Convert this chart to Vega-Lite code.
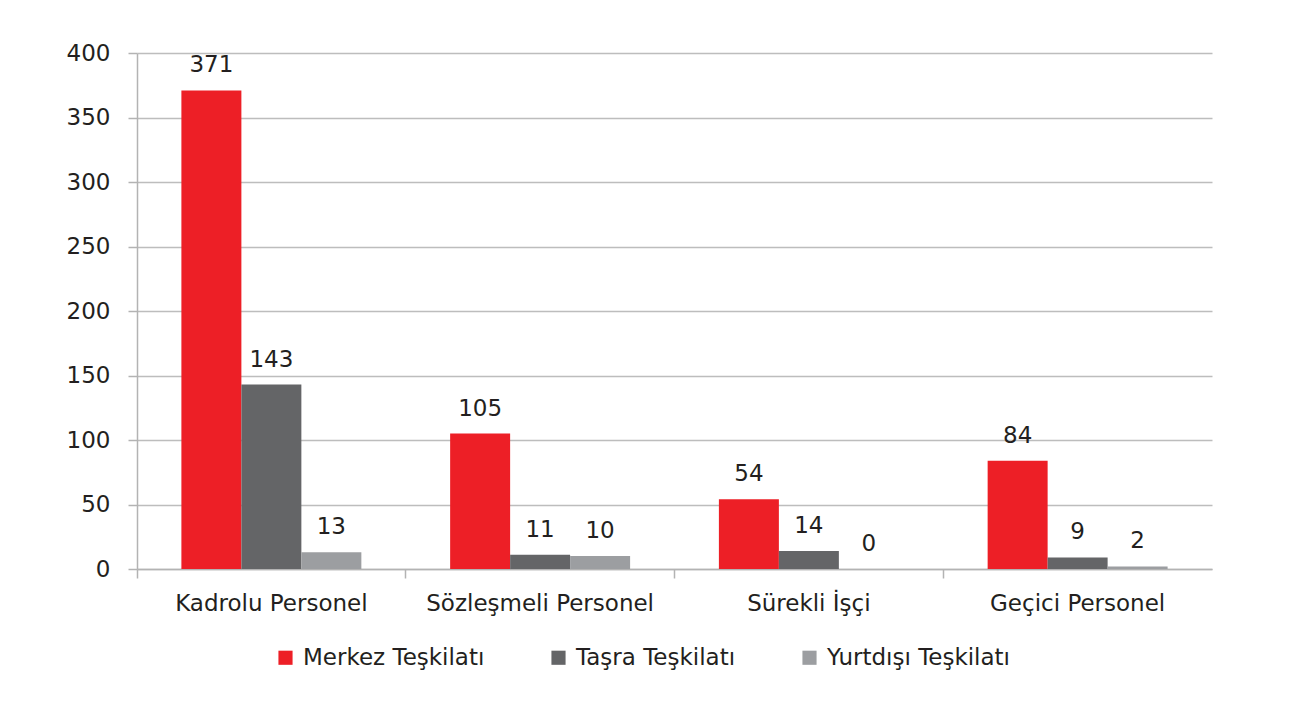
{
  "$schema": "https://vega.github.io/schema/vega-lite/v6.json",
  "autosize": "none",
  "width": 1075,
  "height": 516,
  "padding": {"left": 137, "top": 53, "right": 77, "bottom": 133},
  "background": "white",
  "config": {
    "font": "DejaVu Sans",
    "view": {"stroke": null},
    "axis": {"labelFont": "DejaVu Sans", "labelColor": "#231F20", "domainColor": "#B3B3B3", "tickColor": "#B3B3B3", "gridColor": "#BDBDBD", "gridWidth": 1.5, "domainWidth": 1.5, "tickWidth": 1.5}
  },
  "data": {
    "values": [
      {"kategori": "Kadrolu Personel", "teskilat": "Merkez Teşkilatı", "sayi": 371},
      {"kategori": "Kadrolu Personel", "teskilat": "Taşra Teşkilatı", "sayi": 143},
      {"kategori": "Kadrolu Personel", "teskilat": "Yurtdışı Teşkilatı", "sayi": 13},
      {"kategori": "Sözleşmeli Personel", "teskilat": "Merkez Teşkilatı", "sayi": 105},
      {"kategori": "Sözleşmeli Personel", "teskilat": "Taşra Teşkilatı", "sayi": 11},
      {"kategori": "Sözleşmeli Personel", "teskilat": "Yurtdışı Teşkilatı", "sayi": 10},
      {"kategori": "Sürekli İşçi", "teskilat": "Merkez Teşkilatı", "sayi": 54},
      {"kategori": "Sürekli İşçi", "teskilat": "Taşra Teşkilatı", "sayi": 14},
      {"kategori": "Sürekli İşçi", "teskilat": "Yurtdışı Teşkilatı", "sayi": 0},
      {"kategori": "Geçici Personel", "teskilat": "Merkez Teşkilatı", "sayi": 84},
      {"kategori": "Geçici Personel", "teskilat": "Taşra Teşkilatı", "sayi": 9},
      {"kategori": "Geçici Personel", "teskilat": "Yurtdışı Teşkilatı", "sayi": 2}
    ]
  },
  "encoding": {
    "x": {
      "field": "kategori", "type": "nominal",
      "sort": ["Kadrolu Personel", "Sözleşmeli Personel", "Sürekli İşçi", "Geçici Personel"],
      "scale": {"paddingInner": 0, "paddingOuter": 0},
      "axis": {"title": null, "labelAngle": 0, "labelFontSize": 23, "labelLimit": 400, "labelPadding": 14, "tickSize": 9, "bandPosition": 0, "grid": false}
    },
    "xOffset": {
      "field": "teskilat", "type": "nominal",
      "sort": ["Merkez Teşkilatı", "Taşra Teşkilatı", "Yurtdışı Teşkilatı"],
      "scale": {"paddingInner": 0, "paddingOuter": 0.74}
    },
    "y": {
      "field": "sayi", "type": "quantitative",
      "scale": {"domain": [0, 400]},
      "axis": {"title": null, "values": [0, 50, 100, 150, 200, 250, 300, 350, 400], "labelFontSize": 23, "labelPadding": 18, "tickSize": 9, "grid": true, "domain": true}
    }
  },
  "layer": [
    {
      "mark": {"type": "bar"},
      "encoding": {
        "color": {
          "field": "teskilat", "type": "nominal",
          "sort": ["Merkez Teşkilatı", "Taşra Teşkilatı", "Yurtdışı Teşkilatı"],
          "scale": {"range": ["#ED1F26", "#646567", "#9C9EA1"]},
          "legend": {"title": null, "orient": "none", "legendX": 137, "legendY": 593, "direction": "horizontal", "symbolType": "square", "symbolSize": 200, "symbolStrokeWidth": 0, "labelFontSize": 23, "labelColor": "#231F20", "labelFont": "DejaVu Sans", "labelLimit": 300, "columnPadding": 62, "labelOffset": 6}
        }
      }
    },
    {
      "mark": {"type": "text", "baseline": "bottom", "dy": -13, "fontSize": 23, "color": "#231F20"},
      "encoding": {"text": {"field": "sayi", "type": "quantitative"}}
    }
  ]
}
